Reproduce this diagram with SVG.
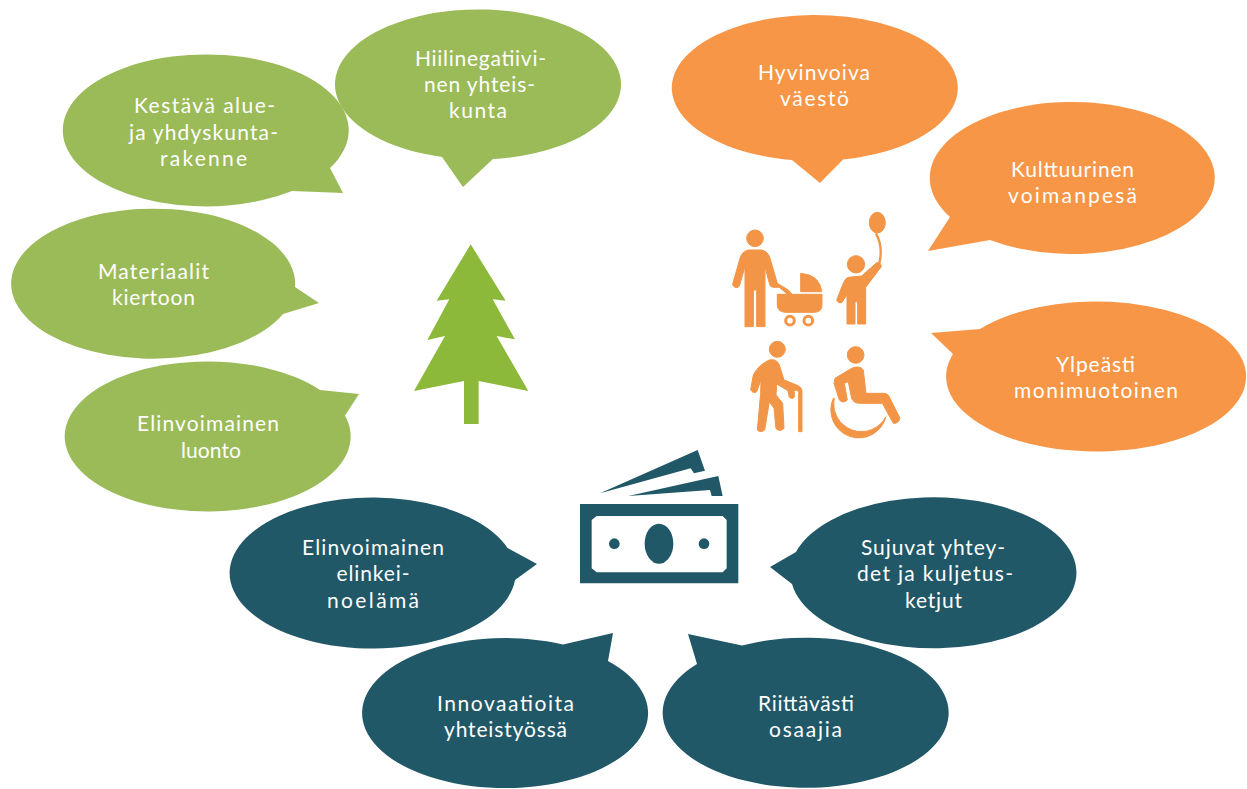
<svg xmlns="http://www.w3.org/2000/svg" width="1247" height="789" viewBox="0 0 1247 789">
<style>
text{font-family:"Lato","Open Sans","Liberation Sans",sans-serif;font-size:21px;fill:#fff;text-anchor:middle}
.g{fill:#9BBB59}.o{fill:#F79646}.b{fill:#215868}
.oi{fill:#F29547;stroke:#F29547;stroke-width:3;stroke-linejoin:round}.bi{fill:#215868}
</style>
<rect width="1247" height="789" fill="#fff"/>
<g id="kestava"><path class="g" d="M330,168L343,193L292,191A143 76 0 1 1 330,168Z"/><text x="204.500" y="113" textLength="141">Kestävä alue-</text><text x="203.500" y="140" textLength="149">ja yhdyskunta-</text><text x="203.500" y="166" textLength="87">rakenne</text></g>
<g id="hiilinegatiivinen"><path class="g" d="M493,159L463,187L442,157A143 75 0 1 1 493,159Z"/><text x="480.500" y="66" textLength="131">Hiilinegatiivi-</text><text x="479.500" y="92" textLength="111">nen yhteis-</text><text x="478" y="118" textLength="58">kunta</text></g>
<g id="materiaalit"><path class="g" d="M295,287L319,303L283,314A142 75 0 1 1 295,287Z"/><text x="153.500" y="279" textLength="111">Materiaalit</text><text x="153.500" y="305" textLength="83">kiertoon</text></g>
<g id="luonto"><path class="g" d="M320,390L359,394L345,415.500A143 75 0 1 1 320,390Z"/><text x="208" y="431" textLength="142">Elinvoimainen</text><text x="211" y="458" textLength="60">luonto</text></g>
<g id="hyvinvoiva"><path class="o" d="M843,159.500L820,183L792,160A143 73 0 1 1 843,159.500Z"/><text x="814" y="80" textLength="112">Hyvinvoiva</text><text x="814.500" y="106" textLength="69">väestö</text></g>
<g id="kulttuurinen"><path class="o" d="M990,240L928,251L950,217A142.500 76 0 1 1 990,240Z"/><text x="1072.500" y="177" textLength="123">Kulttuurinen</text><text x="1072.500" y="203" textLength="129">voimanpesä</text></g>
<g id="ylpeasti"><path class="o" d="M953,354L931,333L980,329A150 75 0 1 1 953,354Z"/><text x="1095.500" y="372" textLength="79">Ylpeästi</text><text x="1096" y="398" textLength="164">monimuotoinen</text></g>
<g id="elinkeino"><path class="b" d="M507.500,548L537,564L515,580A143 75.500 0 1 1 507.500,548Z"/><text x="373" y="555" textLength="142">Elinvoimainen</text><text x="373" y="581" textLength="73">elinkei-</text><text x="373" y="608" textLength="92">noelämä</text></g>
<g id="sujuvat"><path class="b" d="M792,584L770,567L796,552A143 75.500 0 1 1 792,584Z"/><text x="933" y="555" textLength="144">Sujuvat yhtey-</text><text x="935" y="581" textLength="156">det ja kuljetus-</text><text x="933.500" y="608" textLength="57">ketjut</text></g>
<g id="innovaatioita"><path class="b" d="M563,644.500L613,633L608,661A143 75 0 1 1 563,644.500Z"/><text x="505.500" y="711" textLength="137">Innovaatioita</text><text x="505.500" y="737" textLength="123">yhteistyössä</text></g>
<g id="riittavasti"><path class="b" d="M697,664L688,634L742,645.600A143 75 0 1 1 697,664Z"/><text x="806" y="711" textLength="96">Riittävästi</text><text x="805.500" y="737" textLength="73">osaajia</text></g>
<g id="tree" transform="translate(400,230) scale(.3333)"><path fill="#8DB93A" d="M212,43L317,212L278,208L345,328L290,318L385,483L236,453V582H192V453L42,483L135,318L82,330L148,208L110,212Z"/></g>
<g id="people" class="oi" transform="translate(720,200) scale(.3333)">
<circle cx="105" cy="115" r="25"/>
<path d="M85,150H125Q145,155 150,175L172,250L205,270L215,282L205,285L178,262H160Q150,262 148,250L135,200V380H110V270H100V380H75V200L58,258Q50,268 40,258Q36,255 40,245L60,175Q65,155 85,150Z"/>
<path d="M172,283H306V315Q306,335 285,337H195Q172,335 172,315Z"/>
<path d="M242,220Q300,225 305,275H242Z"/>
<circle cx="210" cy="362" r="13" fill="none" stroke-width="9"/>
<circle cx="265" cy="362" r="13" fill="none" stroke-width="9"/>
<circle cx="408" cy="193" r="26"/>
<ellipse cx="472" cy="68" rx="24" ry="31"/>
<path d="M468,100Q490,140 478,190" fill="none" stroke-width="7"/>
<path d="M385,232L425,228L470,188Q482,185 484,200L475,212L437,262V372H413V305H405V372H381V285L365,308Q355,312 350,300L370,250Q375,235 385,232Z"/>
<circle cx="172" cy="448" r="24"/>
<path d="M148,480Q170,475 178,495L192,540L232,556Q246,562 246,575V695H236V578Q236,570 228,570L222,572L224,590Q218,600 208,592L204,572L170,552L168,585L188,610L192,685Q180,697 168,686L162,625L148,605L134,690Q122,700 112,690L122,580L123,540L110,575Q100,582 92,570L100,525Q115,495 148,480Z"/>
<circle cx="407" cy="465" r="25"/>
<path d="M345,535L395,505Q420,495 430,510L438,580H490Q505,580 510,595L540,655Q535,672 520,670L487,610H420Q400,610 395,595L385,545L373,550L382,600Q370,612 358,600L342,550Z"/>
<path d="M340,595A84 84 0 1 0 498,650A83 83 0 0 1 343,595Z"/>
</g>
<g id="money" class="bi" transform="translate(570,440) scale(.3333)">
<path fill-rule="evenodd" d="M30,192H505V430H30ZM80,228H458L470,240V385L458,397H80L65,385V240Z"/>
<ellipse cx="267" cy="311" rx="43" ry="60"/>
<circle cx="133" cy="311" r="16"/>
<circle cx="402" cy="311" r="16"/>
<path d="M90,160L383,30L405,92L372,100L362,85Z"/>
<path d="M175,168L445,108L458,168H425L420,150Z"/>
</g>
</svg>
